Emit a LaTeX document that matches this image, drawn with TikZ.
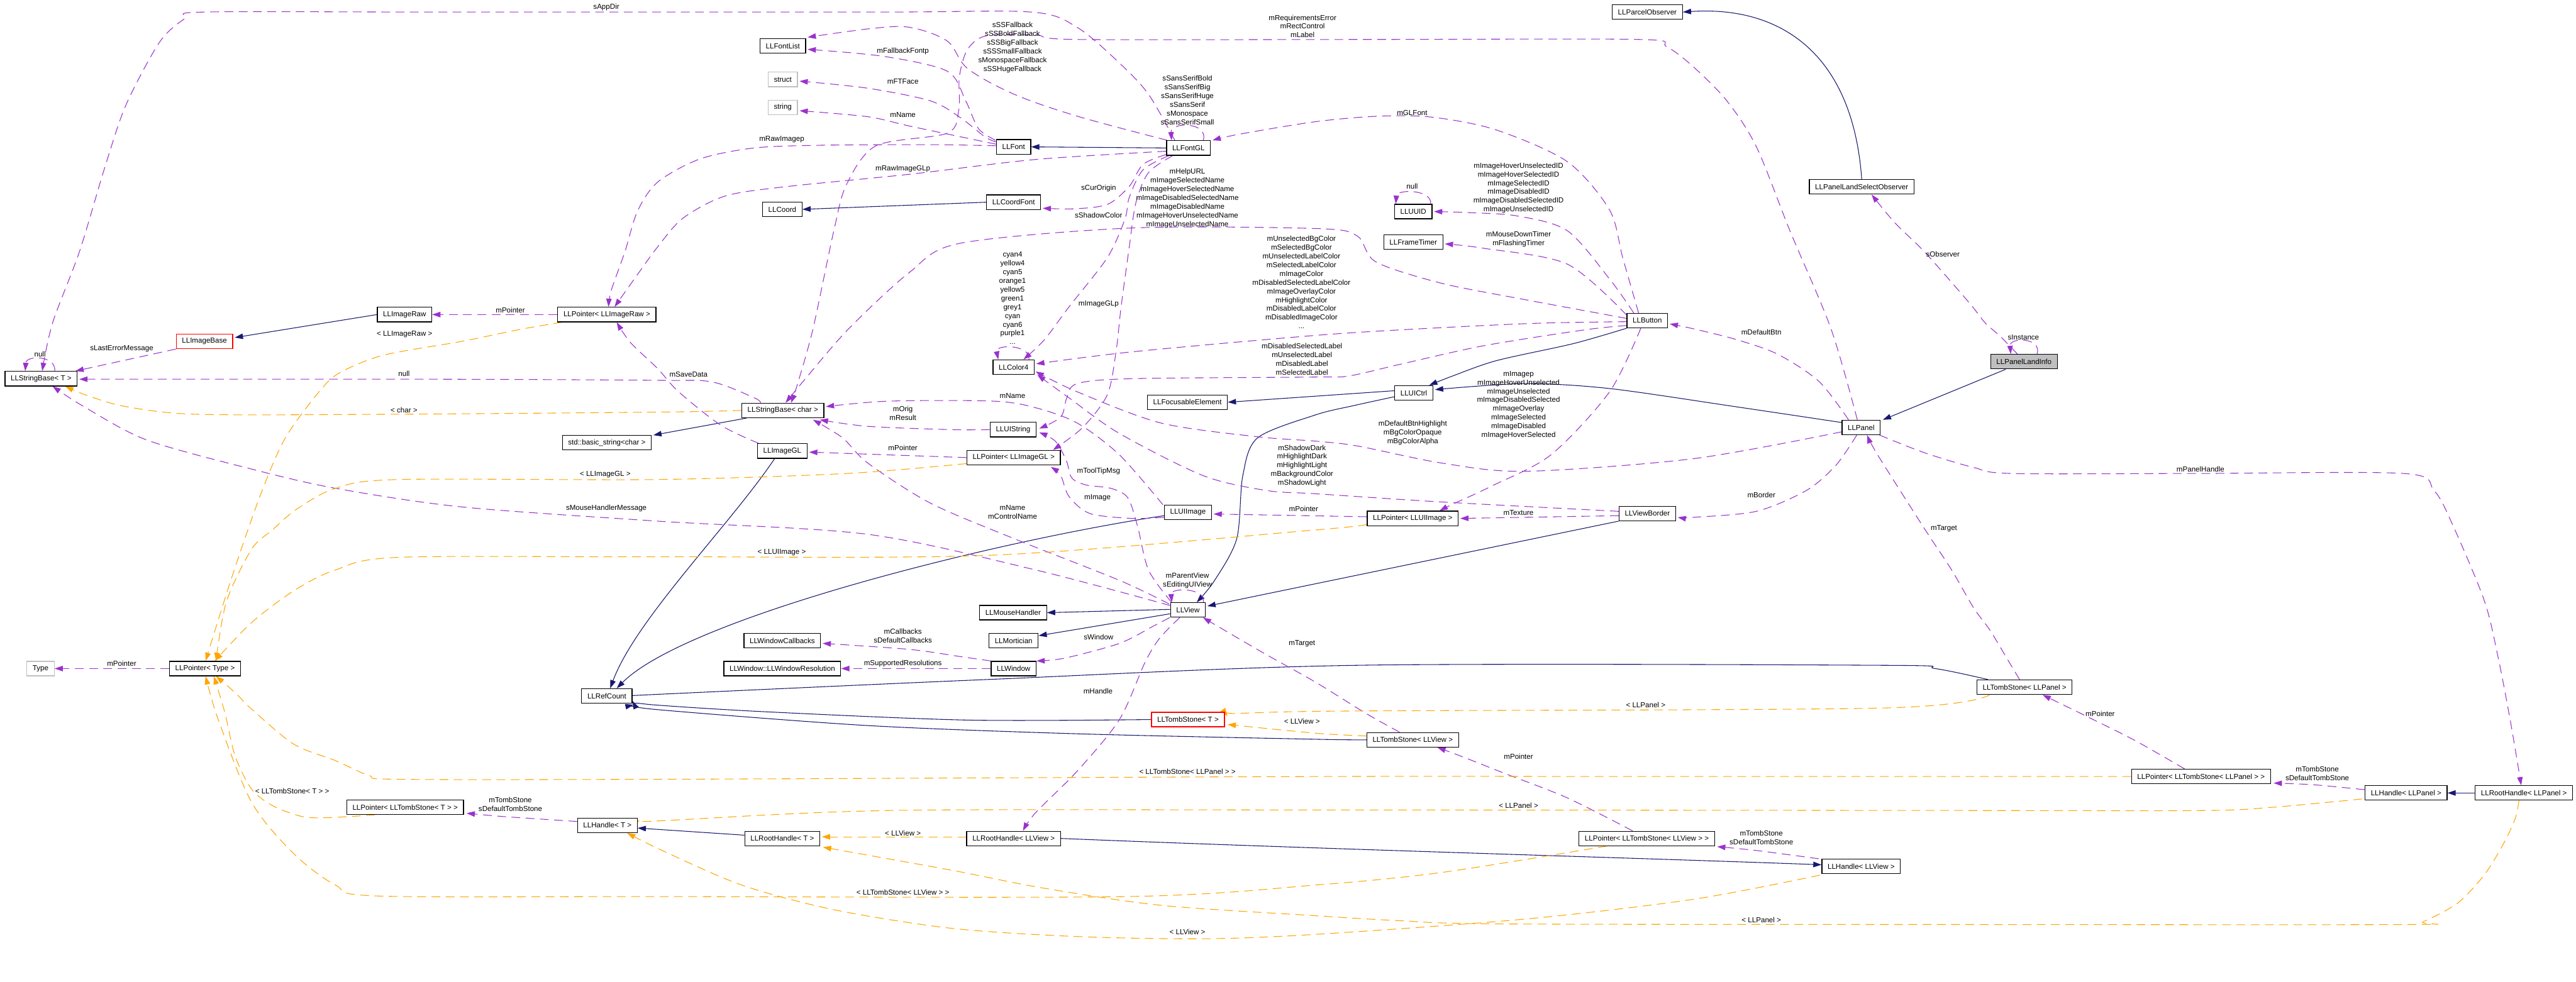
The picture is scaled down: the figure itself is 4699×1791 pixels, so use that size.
\documentclass[tikz,border=0pt]{standalone}
\usepackage{fontspec}
\setmainfont{Liberation Sans}
\usetikzlibrary{arrows.meta,calc}
\definecolor{navyc}{HTML}{191970}
\definecolor{purp}{HTML}{9A32CD}
\definecolor{orng}{HTML}{FFA500}
\definecolor{grayline}{HTML}{BFBFBF}
\definecolor{grayfill}{HTML}{BFBFBF}
\newcommand\nf{\fontsize{3.78}{4.55}\selectfont}
\pgfdeclarelayer{bg}
\pgfdeclarelayer{paper}
\pgfsetlayers{paper,bg,main}
\tikzset{
  clsbox/.style={draw=black, line width=0.4pt, fill=white, inner xsep=0.105cm, inner ysep=0pt, minimum height=0.265cm, font=\nf},
  graybox/.style={clsbox, draw=grayline},
  redbox/.style={clsbox, draw=red},
  lab/.style={font=\nf, align=center, inner sep=0pt},
  inhline/.style={draw=navyc, line width=0.35pt, -{Triangle[length=0.15cm,width=0.1cm]}},
  useline/.style={draw=purp, line width=0.35pt, dash pattern=on 0.16cm off 0.1cm, -{Triangle[length=0.15cm,width=0.1cm]}},
  tplline/.style={draw=orng, line width=0.35pt, dash pattern=on 0.16cm off 0.1cm, -{Triangle[length=0.15cm,width=0.1cm]}},
}
\begin{document}
\begin{tikzpicture}[x=0.01cm,y=-0.01cm]
\useasboundingbox (0,0) rectangle (4699,1791);
\begin{pgfonlayer}{paper}
\fill[white] (0,0) rectangle (4699,1791);
\end{pgfonlayer}
% ---------------- nodes
\node[clsbox] (fontlist) at (1428,84) {LLFontList};
\node[graybox] (struct) at (1428,145) {struct};
\node[graybox] (string) at (1428,196) {string};
\node[clsbox] (font) at (1849,268) {LLFont};
\node[clsbox] (fontgl) at (2168,270) {LLFontGL};
\node[clsbox] (coord) at (1427,382) {LLCoord};
\node[clsbox] (coordfont) at (1849,369) {LLCoordFont};
\node[clsbox] (parcelobs) at (3005,22) {LLParcelObserver};
\node[clsbox] (uuid) at (2578,386) {LLUUID};
\node[clsbox] (frametimer) at (2578,442) {LLFrameTimer};
\node[clsbox] (plso) at (3396,341) {LLPanelLandSelectObserver};
\node[clsbox] (button) at (3005,585) {LLButton};
\node[clsbox, fill=grayfill] (pli) at (3692,660) {LLPanelLandInfo};
\node[clsbox] (imageraw) at (738,574) {LLImageRaw};
\node[clsbox] (ptrimageraw) at (1107,574) {LLPointer< LLImageRaw >};
\node[redbox] (imagebase) at (373,623) {LLImageBase};
\node[clsbox] (sbT) at (75,691) {LLStringBase< T >};
\node[clsbox] (color4) at (1849,670) {LLColor4};
\node[clsbox] (sbchar) at (1428,749) {LLStringBase< char >};
\node[clsbox] (focusable) at (2166,734) {LLFocusableElement};
\node[clsbox] (uistring) at (1848,784) {LLUIString};
\node[clsbox] (imagegl) at (1427,823) {LLImageGL};
\node[clsbox] (ptrimagegl) at (1849,835) {LLPointer< LLImageGL >};
\node[clsbox] (uiimage) at (2167,935) {LLUIImage};
\node[clsbox] (view) at (2167,1113) {LLView};
\node[clsbox] (mousehandler) at (1848,1118) {LLMouseHandler};
\node[clsbox] (mortician) at (1849,1169) {LLMortician};
\node[clsbox] (wincallbacks) at (1427,1169) {LLWindowCallbacks};
\node[clsbox] (basicstring) at (1107,808) {std::basic\_string<char >};
\node[clsbox] (uictrl) at (2579,717) {LLUICtrl};
\node[clsbox] (panel) at (3395,780) {LLPanel};
\node[clsbox] (ptruiimage) at (2577,946) {LLPointer< LLUIImage >};
\node[clsbox] (viewborder) at (3005,937) {LLViewBorder};
\node[clsbox] (winres) at (1427,1220) {LLWindow::LLWindowResolution};
\node[clsbox] (window) at (1849,1220) {LLWindow};
\node[redbox] (tombT) at (2167,1313) {LLTombStone< T >};
\node[clsbox] (rhT) at (1427,1530) {LLRootHandle< T >};
\node[clsbox] (rhView) at (1849,1530) {LLRootHandle< LLView >};
\node[clsbox] (refcount) at (1107,1270) {LLRefCount};
\node[clsbox] (ptrtombT) at (739,1473) {LLPointer< LLTombStone< T > >};
\node[clsbox] (handleT) at (1108,1506) {LLHandle< T >};
\node[clsbox] (tombView) at (2577,1350) {LLTombStone< LLView >};
\node[clsbox] (ptrtombView) at (3004,1530) {LLPointer< LLTombStone< LLView > >};
\node[clsbox] (handleView) at (3395,1581) {LLHandle< LLView >};
\node[clsbox] (tombPanel) at (3693,1254) {LLTombStone< LLPanel >};
\node[clsbox] (ptrtombPanel) at (4015,1417) {LLPointer< LLTombStone< LLPanel > >};
\node[clsbox] (handlePanel) at (4389,1447) {LLHandle< LLPanel >};
\node[clsbox] (rhPanel) at (4604,1447) {LLRootHandle< LLPanel >};
\node[clsbox] (ptrType) at (374,1220) {LLPointer< Type >};
\node[graybox] (type) at (74,1220) {Type};
% ---------------- labels
\node[lab] (lsappdir) at (1106,13) {sAppDir};
\node[lab] (lreq) at (2376,48) {mRequirementsError\\mRectControl\\mLabel};
\node[lab] (lssfb) at (1847,87) {sSSFallback\\sSSBoldFallback\\sSSBigFallback\\sSSSmallFallback\\sMonospaceFallback\\sSSHugeFallback};
\node[lab] (lfallback) at (1647,94) {mFallbackFontp};
\node[lab] (lftface) at (1647,149) {mFTFace};
\node[lab] (lfname) at (1647,210) {mName};
\node[lab] (lrawimg) at (1426,254) {mRawImagep};
\node[lab] (lsans) at (2166,183) {sSansSerifBold\\sSansSerifBig\\sSansSerifHuge\\sSansSerif\\sMonospace\\sSansSerifSmall};
\node[lab] (lrawgl) at (1647,308) {mRawImageGLp};
\node[lab] (lcurorig) at (2004,344) {sCurOrigin};
\node[lab] (lshadow) at (2004,393) {sShadowColor};
\node[lab] (lhelp) at (2166,362) {mHelpURL\\mImageSelectedName\\mImageHoverSelectedName\\mImageDisabledSelectedName\\mImageDisabledName\\mImageHoverUnselectedName\\mImageUnselectedName};
\node[lab] (lcolors) at (1847,544) {cyan4\\yellow4\\cyan5\\orange1\\yellow5\\green1\\grey1\\cyan\\cyan6\\purple1\\...};
\node[lab] (limggl) at (2004,555) {mImageGLp};
\node[lab] (lbgcol) at (2374,515) {mUnselectedBgColor\\mSelectedBgColor\\mUnselectedLabelColor\\mSelectedLabelColor\\mImageColor\\mDisabledSelectedLabelColor\\mImageOverlayColor\\mHighlightColor\\mDisabledLabelColor\\mDisabledImageColor\\...};
\node[lab] (lglfont) at (2576,206) {mGLFont};
\node[lab] (lids) at (2770,343) {mImageHoverUnselectedID\\mImageHoverSelectedID\\mImageSelectedID\\mImageDisabledID\\mImageDisabledSelectedID\\mImageUnselectedID};
\node[lab] (luuidnull) at (2576,340) {null};
\node[lab] (ltimers) at (2770,436) {mMouseDownTimer\\mFlashingTimer};
\node[lab] (lobserver) at (3544,464) {sObserver};
\node[lab] (linstance) at (3691,615) {sInstance};
\node[lab] (lsbtnull) at (73,646) {null};
\node[lab] (llasterr) at (222,636) {sLastErrorMessage};
\node[lab] (ltplraw) at (738,610) {< LLImageRaw >};
\node[lab] (lptrraw) at (931,566) {mPointer};
\node[lab] (lcharnull) at (737,682) {null};
\node[lab] (ltplchar) at (737,748) {< char >};
\node[lab] (ltplgl) at (1104,866) {< LLImageGL >};
\node[lab] (lmhm) at (1106,928) {sMouseHandlerMessage};
\node[lab] (lsave) at (1256,683) {mSaveData};
\node[lab] (luiname) at (1847,722) {mName};
\node[lab] (lorig) at (1647,754) {mOrig\\mResult};
\node[lab] (lptrgl) at (1647,817) {mPointer};
\node[lab] (ltooltip) at (2004,860) {mToolTipMsg};
\node[lab] (limage) at (2002,908) {mImage};
\node[lab] (lvname) at (1847,934) {mName\\mControlName};
\node[lab] (ltplui) at (1426,1008) {< LLUIImage >};
\node[lab] (lparent) at (2166,1059) {mParentView\\sEditingUIView};
\node[lab] (lcallbacks) at (1647,1160) {mCallbacks\\sDefaultCallbacks};
\node[lab] (lswindow) at (2004,1162) {sWindow};
\node[lab] (lshadowdk) at (2375,850) {mShadowDark\\mHighlightDark\\mHighlightLight\\mBackgroundColor\\mShadowLight};
\node[lab] (llabels) at (2375,655) {mDisabledSelectedLabel\\mUnselectedLabel\\mDisabledLabel\\mSelectedLabel};
\node[lab] (lptrui) at (2378,928) {mPointer};
\node[lab] (ltargetv) at (2375,1174) {mTarget};
\node[lab] (ldefbtn) at (3213,606) {mDefaultBtn};
\node[lab] (limagep) at (2770,739) {mImagep\\mImageHoverUnselected\\mImageUnselected\\mImageDisabledSelected\\mImageOverlay\\mImageSelected\\mImageDisabled\\mImageHoverSelected};
\node[lab] (lbghl) at (2577,790) {mDefaultBtnHighlight\\mBgColorOpaque\\mBgColorAlpha};
\node[lab] (ltexture) at (2770,936) {mTexture};
\node[lab] (lborder) at (3213,903) {mBorder};
\node[lab] (ltargetp) at (3546,965) {mTarget};
\node[lab] (lpanelh) at (4014,856) {mPanelHandle};
\node[lab] (lptrtype) at (222,1211) {mPointer};
\node[lab] (ltpltombT) at (533,1444) {< LLTombStone< T > >};
\node[lab] (ltsT) at (931,1468) {mTombStone\\sDefaultTombStone};
\node[lab] (lsupres) at (1647,1211) {mSupportedResolutions};
\node[lab] (lhandle) at (2003,1261) {mHandle};
\node[lab] (ltplv1) at (2375,1316) {< LLView >};
\node[lab] (ltpltp) at (2166,1408) {< LLTombStone< LLPanel > >};
\node[lab] (ltplv2) at (1647,1521) {< LLView >};
\node[lab] (ltpltv) at (1647,1628) {< LLTombStone< LLView > >};
\node[lab] (ltplv3) at (2166,1700) {< LLView >};
\node[lab] (ltplp1) at (3002,1286) {< LLPanel >};
\node[lab] (lptrtv) at (2770,1380) {mPointer};
\node[lab] (ltplp2) at (2770,1470) {< LLPanel >};
\node[lab] (ltsV) at (3213,1528) {mTombStone\\sDefaultTombStone};
\node[lab] (ltplp3) at (3213,1679) {< LLPanel >};
\node[lab] (lptrtp) at (3831,1302) {mPointer};
\node[lab] (ltsP) at (4227,1411) {mTombStone\\sDefaultTombStone};
% ---------------- edges
\begin{pgfonlayer}{bg}
% inheritance
\draw[inhline] (imageraw.west) -- ($(imagebase.east)+(3,-7)$);
\draw[inhline] (fontgl.west) -- (font.east);
\draw[inhline] (coordfont.west) -- (coord.east);
\draw[inhline] (plso.north) .. controls (3380,100) and (3250,10) .. (parcelobs.east);
\draw[inhline] ($(pli.south west)+(28,0)$) -- ($(panel.north east)+(4,0)$);
\draw[inhline] ($(sbchar.south west)+(9,0)$) -- ($(basicstring.north east)+(3,0)$);
\draw[inhline] ($(imagegl.south)+(-14,0)$) .. controls (1330,960) and (1160,1130) .. ($(refcount.north)+(6,0)$);
\draw[inhline] ($(uiimage.west)+(0,6)$) .. controls (1800,990) and (1250,1130) .. ($(refcount.north)+(18,0)$);
\draw[inhline] plot[smooth,tension=0.5] coordinates {($(tombPanel.north west)+(21,0)$) (3530,1220) (3433,1214) (2476,1214) (1800,1240) (1200,1267) (refcount.east)};
\draw[inhline] plot[smooth,tension=0.5] coordinates {(tombT.west) (1766,1314) (1400,1299) (1190,1286) ($(refcount.east)+(0,9)$)};
\draw[inhline] plot[smooth,tension=0.5] coordinates {(tombView.west) (2400,1349) (1965,1339) (1583,1324) (1200,1295) ($(refcount.south east)+(2,2)$)};
\draw[inhline] plot[smooth,tension=0.5] coordinates {($(uictrl.west)+(0,7)$) (2470,740) (2400,757) (2294,799) (2267,868) (2256,983) (2215,1060) ($(view.north)+(16,0)$)};
\draw[inhline] (viewborder.south west) -- ($(view.east)+(3,-7)$);
\draw[inhline] ($(view.west)+(0,-1)$) -- (mousehandler.east);
\draw[inhline] ($(view.west)+(0,7)$) -- ($(mortician.east)+(0,-9)$);
\draw[inhline] ($(uictrl.west)+(0,-4)$) -- (focusable.east);
\draw[inhline] plot[smooth,tension=0.5] coordinates {(button.south west) (2870,627) (2730,658) (2650,686) ($(uictrl.north)+(28,0)$)};
\draw[inhline] plot[smooth,tension=0.5] coordinates {($(panel.west)+(0,-9)$) (3165,742) (2936,709) (2780,700) ($(uictrl.east)+(3,-6)$)};
\draw[inhline] (rhPanel.west) -- (handlePanel.east);
\draw[inhline] (rhView.east) .. controls (2400,1549) and (3000,1566) .. ($(handleView.west)+(0,-3)$);
\draw[inhline] ($(rhT.west)+(0,-6)$) -- ($(handleT.east)+(0,5)$);
% usage
\draw[useline] plot[smooth,tension=0.5] coordinates {($(fontgl.north)+(-25,0)$) (2095,172) (2042,115) (1965,50) (1881,22) (1600,22) (800,22) (371,22) (337,34) (291,77) (230,191) (191,306) (145,459) (96,589) ($(sbT.north)+(2,0)$)};
\draw[useline] plot[smooth,tension=0.55] coordinates {($(fontgl.north west)+(2,0)$) (1965,212) (1850,172) (1765,125) (1728,75) (1660,50) (1590,52) ($(fontlist.north east)+(3,-2)$)};
\draw[useline] plot[smooth] coordinates {($(font.north west)+(-1,2)$) (1785,235) (1762,185) (1728,130) (1613,103) ($(fontlist.east)+(3,6)$)};
\draw[useline] plot[smooth] coordinates {($(font.west)+(0,-9)$) (1797,250) (1751,214) (1697,184) (1583,161) ($(struct.east)+(3,3)$)};
\draw[useline] plot[smooth] coordinates {($(font.west)+(0,-5)$) (1797,259) (1659,230) (1583,213) ($(string.east)+(3,6)$)};
\draw[useline] plot[smooth,tension=0.5] coordinates {($(font.west)+(0,-2)$) (1700,264) (1500,265) (1376,270) (1277,290) (1200,332) (1163,385) (1140,459) (1115,530) ($(ptrimageraw.north)+(3,0)$)};
\draw[useline] plot[smooth,tension=0.5] coordinates {($(fontgl.west)+(0,6)$) (1889,291) (1659,318) (1430,341) (1322,358) (1246,398) (1200,450) (1160,505) ($(ptrimageraw.north)+(14,0)$)};
\draw[useline] ($(fontgl.north)+(27,0)$) .. controls (2205,222) and (2135,222) .. ($(fontgl.north)+(-31,0)$);
\draw[useline] plot[smooth,tension=0.5] coordinates {($(button.north)+(-16,0)$) (2960,470) (2936,383) (2859,295) (2729,237) (2614,214) (2515,212) (2400,222) (2260,245) ($(fontgl.north east)+(3,0)$)};
\draw[useline] plot[smooth] coordinates {($(fontgl.south west)+(0,-2)$) (2085,300) (2060,340) (2020,373) (1960,381) ($(coordfont.east)+(3,11)$)};
\draw[useline] plot[smooth] coordinates {($(fontgl.south west)+(5,0)$) (2085,310) (2060,360) (2052,400) (2020,470) (1950,560) (1905,620) ($(color4.north)+(18,0)$)};
\draw[useline] plot[smooth] coordinates {($(fontgl.south west)+(12,0)$) (2095,315) (2072,370) (2060,450) (2045,560) (2036,640) (2020,720) (1975,780) ($(ptrimagegl.north east)+(-14,0)$)};
\draw[useline] ($(color4.north)+(28,0)$) .. controls (1880,628) and (1815,628) .. ($(color4.north)+(-28,0)$);
\draw[useline] plot[smooth,tension=0.5] coordinates {($(button.west)+(0,-4)$) (2783,547) (2630,517) (2510,478) (2475,430) (2400,417) (2065,416) (1751,444) (1659,497) (1548,600) (1470,690) ($(sbchar.north)+(5,0)$)};
\draw[useline] plot[smooth,tension=0.5] coordinates {($(panel.north)+(-7,0)$) (3340,600) (3265,421) (3204,268) (3150,184) (3089,122) (3040,85) (2990,72) (2500,72) (1965,72) (1890,64) (1800,65) (1765,90) (1750,140) (1749,200) (1728,243) (1598,266) (1544,337) (1521,421) (1483,600) (1455,700) ($(sbchar.north)+(15,0)$)};
\draw[useline] plot[smooth] coordinates {($(button.north west)+(13,0)$) (2936,509) (2859,421) (2767,394) (2680,388) ($(uuid.east)+(3,0)$)};
\draw[useline] ($(uuid.north east)+(-3,0)$) .. controls (2612,345) and (2548,345) .. ($(uuid.north west)+(3,0)$);
\draw[useline] plot[smooth] coordinates {($(button.west)+(0,-10)$) (2859,482) (2706,453) ($(frametimer.east)+(3,3)$)};
\draw[useline] plot[smooth,tension=0.5] coordinates {($(button.west)+(0,2)$) (2800,590) (2590,600) (2400,612) (2065,642) ($(color4.east)+(3,-6)$)};
\draw[useline] plot[smooth,tension=0.5] coordinates {($(button.south west)+(0,-5)$) (2890,602) (2706,631) (2553,665) (2461,686) (2400,688) (2065,691) (1965,700) (1946,726) (1935,761) ($(uistring.east)+(5,-2)$)};
\draw[useline] plot[smooth,tension=0.5] coordinates {($(uiimage.north west)+(-2,0)$) (2042,830) (1965,772) (1889,744) (1812,732) (1621,732) ($(sbchar.east)+(3,-7)$)};
\draw[useline] plot[smooth] coordinates {(uistring.west) (1736,784) (1583,778) ($(sbchar.south east)+(-8,3)$)};
\draw[useline] (ptrimagegl.west) -- ($(imagegl.east)+(3,2)$);
\draw[useline] plot[smooth] coordinates {($(uiimage.west)+(0,9)$) (2065,946) (1988,937) (1950,906) (1935,868) ($(ptrimagegl.south east)+(-18,3)$)};
\draw[useline] plot[smooth] coordinates {($(view.north)+(-30,0)$) (2095,1040) (2075,960) (2057,908) (2026,891) (1981,885) (1955,872) (1945,840) (1925,805) ($(uistring.east)+(5,5)$)};
\draw[useline] plot[smooth,tension=0.5] coordinates {($(view.north west)+(-2,3)$) (2042,1059) (1850,983) (1697,918) (1583,845) (1537,799) ($(sbchar.south)+(55,3)$)};
\draw[useline] ($(view.north)+(28,0)$) .. controls (2200,1072) and (2135,1072) .. ($(view.north west)+(3,0)$);
\draw[useline] plot[smooth,tension=0.5] coordinates {($(view.west)+(0,-8)$) (1889,1040) (1583,975) (1200,951) (842,925) (612,891) (459,856) (268,803) (153,742) ($(sbT.south)+(21,0)$)};
\draw[useline] plot[smooth] coordinates {($(view.south west)+(-1,0)$) (2103,1143) (2042,1174) (1942,1201) (window.north east)};
\draw[useline] plot[smooth] coordinates {(window.north west) (1751,1198) (1659,1185) ($(wincallbacks.east)+(3,5)$)};
\draw[useline] (window.west) -- (winres.east);
\draw[useline] plot[smooth] coordinates {($(view.south)+(-15,0)$) (2115,1165) (2088,1210) (2042,1313) (1965,1407) (1889,1483) ($(rhView.north)+(17,0)$)};
\draw[useline] plot[smooth] coordinates {($(tombView.north)+(-24,0)$) (2492,1302) (2400,1245) (2302,1190) ($(view.south east)+(-5,0)$)};
\draw[useline] plot[smooth] coordinates {($(ptrtombView.north)+(-26,0)$) (2859,1456) (2744,1411) (2668,1381) ($(tombView.south)+(45,0)$)};
\draw[useline] plot[smooth] coordinates {($(handleView.north west)+(-5,0)$) (3204,1552) ($(ptrtombView.south east)+(4,1)$)};
\draw[useline] plot[smooth] coordinates {($(handleT.west)+(0,-7)$) (918,1490) ($(ptrtombT.south east)+(5,-3)$)};
\draw[useline] (ptrType.west) -- (type.east);
\draw[useline] (ptrimageraw.west) -- (imageraw.east);
\draw[useline] ($(ptruiimage.west)+(0,-3)$) -- ($(uiimage.east)+(3,3)$);
\draw[useline] ($(viewborder.west)+(0,4)$) -- ($(ptruiimage.east)+(3,0)$);
\draw[useline] plot[smooth] coordinates {($(button.south)+(-12,0)$) (2936,715) (2829,830) (2721,887) (2650,920) ($(ptruiimage.north)+(49,0)$)};
\draw[useline] plot[smooth,tension=0.5] coordinates {($(viewborder.north west)+(0,10)$) (2630,916) (2400,901) (2310,895) (2195,868) (2042,791) (1950,726) ($(color4.south east)+(5,0)$)};
\draw[useline] plot[smooth,tension=0.5] coordinates {($(panel.west)+(0,8)$) (3089,837) (2783,860) (2630,845) (2477,814) (2400,805) (2294,797) (2118,772) (1965,715) ($(color4.south east)+(2,-6)$)};
\draw[useline] plot[smooth] coordinates {($(panel.north)+(-23,0)$) (3318,696) (3242,646) (3165,619) (3089,600) ($(button.east)+(3,6)$)};
\draw[useline] plot[smooth] coordinates {($(panel.south)+(-8,0)$) (3349,849) (3295,895) (3204,933) (3089,944) ($(viewborder.east)+(3,7)$)};
\draw[useline] plot[smooth] coordinates {($(tombPanel.north)+(-9,0)$) (3660,1200) (3630,1150) (3600,1109) (3560,1040) (3510,964) (3425,830) ($(panel.south)+(11,0)$)};
\draw[useline] plot[smooth] coordinates {($(pli.north)+(-12,0)$) (3650,615) (3621,589) (3600,562) (3571,528) (3510,459) (3456,406) ($(plso.south)+(18,0)$)};
\draw[useline] ($(pli.north)+(24,0)$) .. controls (3725,615) and (3665,615) .. ($(pli.north)+(-24,0)$);
\draw[useline] plot[smooth,tension=0.5] coordinates {($(panel.south east)+(-2,0)$) (3510,826) (3600,853) (3670,864) (4000,864) (4385,864) (4440,895) (4475,960) (4532,1097) (4557,1200) (4580,1320) ($(rhPanel.north)+(-5,0)$)};
\draw[useline] plot[smooth] coordinates {($(ptrtombPanel.north)+(-30,0)$) (3894,1351) (3810,1309) ($(tombPanel.south)+(33,0)$)};
\draw[useline] plot[smooth] coordinates {($(handlePanel.west)+(0,-6)$) (4220,1432) ($(ptrtombPanel.south east)+(5,-2)$)};
\draw[useline] (imagebase.south west) -- ($(sbT.north east)+(-4,0)$);
\draw[useline] ($(sbT.north)+(25,0)$) .. controls (102,648) and (48,648) .. ($(sbT.north)+(-29,0)$);
\draw[useline] plot[smooth,tension=0.5] coordinates {($(sbchar.north west)+(35,0)$) (1376,726) (1299,697) (1200,694) (800,692) ($(sbT.east)+(3,1)$)};
\draw[useline] plot[smooth] coordinates {($(imagegl.north west)+(3,0)$) (1315,776) (1238,715) (1200,673) (1150,625) ($(ptrimageraw.south)+(18,0)$)};
% template instantiation
\draw[tplline] plot[smooth,tension=0.5] coordinates {($(ptrimageraw.south west)+(9,0)$) (949,601) (842,623) (700,648) (620,680) (582,715) (520,800) (474,906) (421,1059) ($(ptrType.north)+(1,0)$)};
\draw[tplline] plot[smooth,tension=0.5] coordinates {(sbchar.west) (1200,752) (700,756) (360,756) (230,742) (160,722) ($(sbT.south)+(44,0)$)};
\draw[tplline] plot[smooth,tension=0.5] coordinates {($(ptrimagegl.south west)+(0,-3)$) (1544,864) (1200,875) (727,875) (612,891) (540,930) (497,967) (459,1002) (413,1098) ($(ptrType.north)+(20,0)$)};
\draw[tplline] plot[smooth,tension=0.5] coordinates {($(ptruiimage.south west)+(0,-3)$) (2400,967) (1812,1013) (1200,1016) (727,1017) (612,1040) (536,1078) (459,1136) ($(ptrType.north)+(18,0)$)};
\draw[tplline] plot[smooth,tension=0.5] coordinates {($(ptrtombT.south west)+(52,0)$) (600,1492) (551,1490) (497,1470) (459,1440) (429,1380) (410,1300) ($(ptrType.south)+(16,0)$)};
\draw[tplline] plot[smooth,tension=0.5] coordinates {(ptrtombPanel.west) (3000,1417) (2400,1417) (1200,1422) (727,1422) (673,1415) (612,1388) (536,1358) (459,1294) (429,1264) ($(ptrType.south)+(20,0)$)};
\draw[tplline] plot[smooth,tension=0.5] coordinates {($(ptrtombView.south west)+(51,0)$) (2630,1592) (2400,1615) (2057,1636) (1200,1636) (689,1635) (612,1615) (536,1558) (459,1464) (398,1313) ($(ptrType.south)+(1,0)$)};
\draw[tplline] plot[smooth] coordinates {($(tombView.west)+(0,-7)$) (2400,1338) ($(tombT.east)+(5,9)$)};
\draw[tplline] plot[smooth,tension=0.5] coordinates {($(tombPanel.south west)+(24,0)$) (3433,1292) (2400,1298) ($(tombT.east)+(5,-6)$)};
\draw[tplline] plot[smooth,tension=0.5] coordinates {($(handlePanel.south west)+(-5,-3)$) (4147,1473) (4021,1479) (3600,1479) (2400,1478) (1621,1479) (1200,1498) ($(handleT.east)+(4,-8)$)};
\draw[tplline] plot[smooth,tension=0.5] coordinates {($(handleView.south west)+(-3,2)$) (3089,1641) (2783,1677) (2400,1705) (2195,1713) (1965,1709) (1736,1694) (1521,1660) (1353,1615) (1208,1552) ($(handleT.south)+(36,0)$)};
\draw[tplline] ($(rhView.west)+(0,-3)$) -- ($(rhT.east)+(3,-3)$);
\draw[tplline] plot[smooth,tension=0.5] coordinates {($(rhPanel.south)+(-9,0)$) (4588,1494) (4567,1539) (4532,1596) (4483,1648) (4420,1682) (4392,1687) (3600,1687) (2744,1686) (2553,1680) (2400,1671) (2118,1652) (1900,1620) (1736,1588) ($(rhT.south east)+(5,2)$)};
\end{pgfonlayer}
\end{tikzpicture}
\end{document}
